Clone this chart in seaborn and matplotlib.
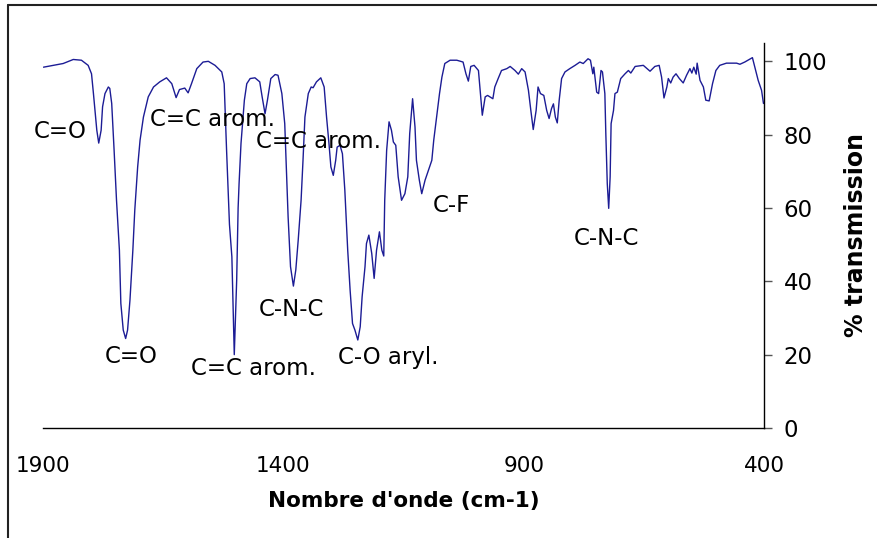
import pandas as pd
import seaborn as sns
import matplotlib.pyplot as plt
from matplotlib.lines import Line2D

# -------------------------
# IR spectrum values (wavenumber in cm-1, % transmission)
# -------------------------
wavenumber = [
    1899, 1879, 1858, 1837, 1820, 1806, 1799, 1795, 1788, 1784, 1779, 1776, 1771,
    1764, 1761, 1757, 1752, 1747, 1741, 1738, 1733, 1728, 1724, 1719, 1713, 1709,
    1703, 1698, 1691, 1681, 1670, 1657, 1643, 1632, 1623, 1616, 1605, 1598, 1591,
    1580, 1567, 1556, 1542, 1528, 1523, 1518, 1512, 1507, 1504, 1502, 1497, 1494,
    1492, 1488, 1481, 1476, 1469, 1459, 1449, 1444, 1438, 1433, 1426, 1417, 1411,
    1403, 1397, 1393, 1390, 1385, 1379, 1374, 1369, 1363, 1359, 1355, 1348, 1342,
    1338, 1331, 1322, 1315, 1310, 1305, 1301, 1296, 1291, 1288, 1282, 1277, 1272,
    1266, 1261, 1256, 1251, 1245, 1240, 1236, 1230, 1227, 1222, 1216, 1211, 1206,
    1200, 1195, 1191, 1189, 1185, 1180, 1175, 1171, 1166, 1161, 1154, 1147, 1141,
    1137, 1131, 1126, 1123, 1117, 1112, 1105, 1098, 1091, 1087, 1081, 1075, 1070,
    1064, 1053, 1039, 1026, 1020, 1015, 1010, 1003, 994, 991, 986, 980, 975, 970,
    964, 960, 953, 946, 935, 928, 918, 911, 904, 897, 890, 885, 880, 874, 870, 865,
    858, 852, 847, 842, 838, 834, 830, 826, 821, 814, 804, 793, 783, 776, 766, 761,
    756, 754, 748, 744, 739, 736, 731, 729, 726, 723, 720, 718, 713, 710, 705, 698,
    689, 682, 677, 668, 651, 637, 627, 618, 613, 608, 602, 599, 594, 589, 583, 576,
    568, 561, 554, 550, 546, 541, 539, 533, 526, 521, 514, 507, 500, 492, 478, 457,
    450, 440, 424, 419, 412, 405, 401,
]
transmission = [
    98.4, 98.9, 99.4, 100.5, 100.3, 98.9, 96.6, 91.2, 81.2, 77.7, 81.2, 87.6, 91.2,
    93.0, 92.6, 88.5, 75.7, 62.1, 48.5, 34.0, 26.7, 24.4, 26.7, 34.9, 48.5, 59.4,
    71.2, 78.5, 84.8, 90.3, 93.0, 94.4, 95.5, 93.9, 90.1, 92.3, 92.7, 91.4, 93.9,
    98.0, 99.8, 100.0, 98.9, 97.1, 93.9, 75.7, 55.5, 46.7, 31.3, 20.0, 40.3, 60.0,
    66.7, 77.6, 89.4, 93.9, 95.3, 95.5, 94.4, 90.3, 85.7, 89.4, 95.3, 96.4, 96.2,
    91.2, 83.0, 68.5, 57.6, 44.0, 38.7, 43.1, 51.2, 62.1, 73.0, 84.8, 91.2, 93.0,
    92.8, 94.4, 95.5, 93.0, 84.8, 77.6, 71.2, 68.9, 73.0, 76.6, 77.1, 74.8, 64.9,
    48.5, 37.6, 28.5, 26.7, 24.0, 27.6, 35.8, 44.0, 50.3, 52.6, 47.6, 40.8, 48.5,
    53.5, 48.5, 46.9, 62.1, 75.7, 83.5, 81.2, 78.0, 77.1, 68.5, 62.1, 63.9, 68.5,
    80.3, 89.8, 82.1, 73.0, 67.6, 63.9, 67.6, 70.3, 73.0, 78.5, 84.8, 91.2, 95.7,
    99.4, 100.3, 100.3, 99.8, 96.6, 94.6, 98.6, 98.9, 97.5, 93.0, 85.3, 90.3, 90.7, 90.3,
    89.8, 93.0, 95.3, 97.5, 98.0, 98.6, 97.5, 96.5, 98.0, 97.1, 92.1, 86.6, 81.4, 86.6, 93.0, 91.2,
    90.7, 86.6, 84.4, 87.1, 88.4, 84.8, 83.2, 89.4, 95.3, 97.1, 98.0, 98.9, 99.8, 99.4, 100.7, 100.3,
    96.6, 98.4, 91.6, 91.2, 97.5, 97.1, 91.2, 80.3, 66.7, 59.9, 68.5, 83.0, 86.6, 91.2, 91.6, 95.3,
    96.6, 97.5, 96.8, 98.6, 98.9, 97.3, 98.6, 98.9, 95.7, 90.0, 93.0, 95.3, 94.1, 95.7, 96.6, 95.3,
    94.1, 96.2, 98.0, 96.8, 98.4, 96.5, 99.5, 94.8, 93.0, 89.4, 89.2, 93.9, 97.5, 98.9, 99.5, 99.5,
    99.2, 99.8, 101.0, 98.4, 94.8, 92.1, 88.5,
]

# band assignments and where their labels sit (wavenumber, % transmission)
band_labels = ["C=O", "C=O", "C=C arom.", "C=C arom.", "C=C arom.",
               "C-N-C", "C-O aryl.", "C-F", "C-N-C"]
label_wn = [1865, 1717, 1548, 1326, 1463, 1384, 1182, 1051, 727]
label_t = [80.9, 19.6, 84.2, 78.2, 16.3, 32.2, 19.3, 60.8, 51.8]

x_ticks = [1900, 1400, 900, 400]
y_ticks = [0, 20, 40, 60, 80, 100]

df = pd.DataFrame({"wn": wavenumber, "T": transmission})

# -------------------------
# Style
# -------------------------
sns.set_style("white")
plt.rcParams["font.family"] = ["DejaVu Sans"]
plt.rcParams["text.color"] = "black"
plt.rcParams["axes.labelcolor"] = "black"
plt.rcParams["xtick.labelcolor"] = "black"
plt.rcParams["ytick.labelcolor"] = "black"

fig = plt.figure(figsize=(8.77, 5.38), dpi=100)
ax = fig.add_axes([0.0490, 0.2045, 0.8221, 0.7156])

sns.lineplot(data=df, x="wn", y="T", ax=ax, color="#1c1c95",
             linewidth=1.0, estimator=None, sort=False)

ax.set_xlim(1900, 400)
ax.set_ylim(0, 105)
ax.set_xticks(x_ticks)
ax.set_yticks(y_ticks)

# spines: only bottom and right
for side in ["left", "top"]:
    ax.spines[side].set_visible(False)
for side in ["bottom", "right"]:
    ax.spines[side].set_color("black")
    ax.spines[side].set_linewidth(1.0)

ax.yaxis.tick_right()
ax.yaxis.set_label_position("right")
ax.tick_params(axis="y", which="both", direction="out", length=6, width=1,
               color="#555555", pad=8, labelsize=16.5, labelcolor="black")
ax.tick_params(axis="x", which="both", direction="out", length=6, width=1,
               color="#555555", pad=14, labelsize=15.5, labelcolor="black")

ax.set_xlabel("Nombre d'onde (cm-1)", fontsize=15.5, fontweight="bold",
              labelpad=11, color="black")
ax.set_ylabel("% transmission", fontsize=17, fontweight="bold", labelpad=12,
              rotation=90, color="black")

for txt, xw, yt in zip(band_labels, label_wn, label_t):
    ax.text(xw, yt, txt, ha="center", va="center", fontsize=16.5, color="black")

# outer frame lines (left and top) as in the source picture
fig.add_artist(Line2D([8 / 877, 8 / 877], [0, 1 - 5 / 538], transform=fig.transFigure,
                      color="#222222", linewidth=1.5))
fig.add_artist(Line2D([8 / 877, 1], [1 - 5 / 538, 1 - 5 / 538], transform=fig.transFigure,
                      color="#222222", linewidth=1.5))

fig.savefig("out.png", dpi=100)
plt.close(fig)
